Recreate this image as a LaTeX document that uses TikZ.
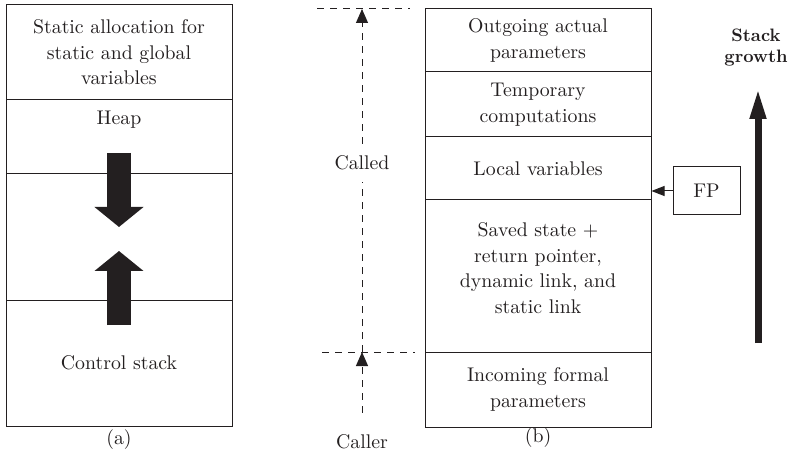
\documentclass[tikz,border=0pt]{standalone}
\usepackage{fontspec}
\setmainfont{lmroman10-regular.otf}[BoldFont=lmroman10-bold.otf]
\usepackage{xcolor}
\usepackage{tikz}
\usetikzlibrary{positioning,arrows.meta}
\definecolor{ink}{RGB}{35,31,32}
\newcommand{\cellfont}{\fontsize{19.8}{25.5}\selectfont}
\newcommand{\growfont}{\fontsize{18}{21}\selectfont\bfseries}
\tikzset{
  % --- memory layout cells -------------------------------------------------
  cell/.style={draw=ink,line width=1pt,minimum width=226pt,inner sep=0pt,
               align=center,font=\cellfont,text=ink},
  lab/.style={font=\cellfont,align=center,inner sep=1pt,text=ink},
  % --- arrows --------------------------------------------------------------
  bigarrow/.style={ink,line width=24pt,-{Triangle[width=48pt,length=20pt]}},
  ptr/.style={ink,line width=1pt,-{Triangle[width=10pt,length=13pt]}},
  guide/.style={ink,line width=1pt,dash pattern=on 7pt off 6pt},
  gtip/.style={-{Triangle[width=12pt,length=14pt]}},
}

\begin{document}
\begin{tikzpicture}[x=1pt,y=-1pt]
  \useasboundingbox (0,0) rectangle (790,465);

  % --- (a) static / heap / stack layout ---------------------------------
  \node[cell,minimum height=95pt]  (stat) at (119,52.5)
       {Static allocation for\\static and global\\variables};
  \node[cell,minimum height=74pt]  (heap) at (119,137) {};
  \node[cell,minimum height=126pt] (free) at (119,237) {};
  \node[cell,minimum height=126pt] (ctrl) at (119,363) {Control stack};
  \node[lab] (heaplab) at (119,120) {Heap};

  \draw[bigarrow] (119,153) -- (119,227);   % heap grows down
  \draw[bigarrow] (119,325) -- (119,251);   % stack grows up

  \node[lab] (capa) at (119,440) {(a)};

  % --- (b) activation record --------------------------------------------
  \node[cell,minimum height=63pt]  (out)   at (538,40.5)
       {Outgoing actual\\parameters};
  \node[cell,minimum height=65pt]  (temp)  at (538,104.5)
       {Temporary\\computations};
  \node[cell,minimum height=63pt]  (local) at (538,168.5) {Local variables};
  \node[cell,minimum height=152pt] (saved) at (538,276) {};
  \node[cell,minimum height=75pt]  (inc)   at (538,389.5)
       {Incoming formal\\parameters};
  \node[lab] (savedlab) at (538,268)
       {Saved state +\\return pointer,\\dynamic link, and\\static link};

  \node[lab] (capb) at (538,438) {(b)};

  % frame pointer
  \node[cell,minimum width=67pt,minimum height=48pt] (fp) at (706.5,191) {FP};
  \draw[ptr] (fp.west) -- (fp.west -| local.east);

  % --- caller / called extents ------------------------------------------
  \coordinate (ctop) at (362,9);
  \coordinate (cmid) at (362,352);
  \draw[guide] (317,9) -- (410,9);
  \draw[guide] (322,352) -- (415,352);

  \node[lab,inner ysep=12pt] (called) at (362,163) {Called};
  \node[lab,inner ysep=22pt] (caller) at (362,442) {Caller};

  \draw[guide,gtip] (caller.north) -- (cmid);
  \draw[guide] (cmid) -- (called.south);
  \draw[guide,gtip] (called.north) -- (ctop);

  % --- growth direction -------------------------------------------------
  \node[font=\growfont,align=center,text=ink,inner sep=1pt] (sg) at (756,48)
       {Stack\\growth};
  \coordinate (sgbot) at (758,343);
  \coordinate (sgtip) at (758,88);
  \draw[ink,line width=7pt,-{Triangle[width=15pt,length=31pt]}] (sgbot) -- (sgtip);
\end{tikzpicture}
\end{document}
